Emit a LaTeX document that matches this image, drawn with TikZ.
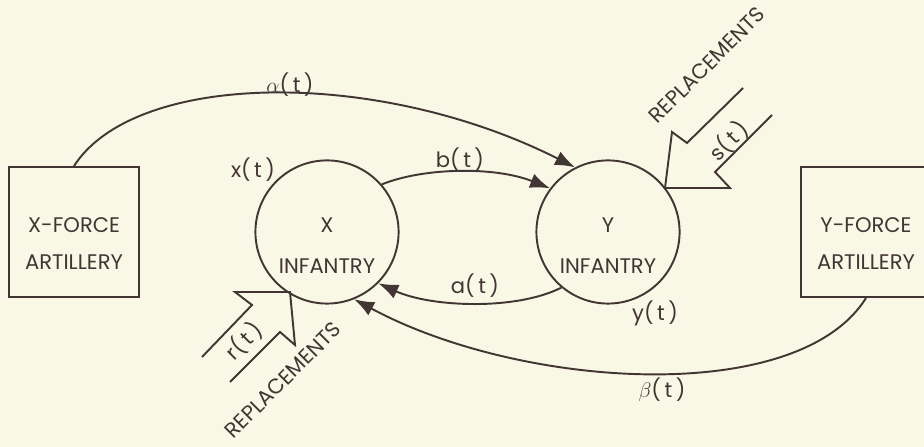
\documentclass[tikz,border=0pt]{standalone}
\usepackage{fontspec}
\setmainfont{Poppins}
\usepackage{tikz}
\usetikzlibrary{arrows.meta}
\definecolor{ink}{RGB}{66,54,52}
\definecolor{paper}{RGB}{249,247,230}
\newcommand{\liftby}[1]{\rule{0pt}{#1}}
\tikzset{
force/.style={draw, minimum width=26mm, minimum height=26mm, align=center,
font=\fontsize{12}{14}\selectfont},
troops/.style={draw, circle, minimum size=27.2mm, align=center,
font=\fontsize{12}{14}\selectfont},
flow/.style={-{Latex[length=4mm,width=3mm]}},
tag/.style={font=\fontsize{12}{14}\selectfont}
}

\begin{document}
\begin{tikzpicture}[x=0.2mm,y=0.2mm,line width=1.1pt,draw=ink,text=ink]
\fill[paper] (0,0) rectangle (924,447);
\useasboundingbox (0,0) rectangle (924,447);
% the four boxes and circles
\node[force](xart) at (74,215){\liftby{22pt}X-FORCE\\[7pt]ARTILLERY};
\node[force](yart) at (866,215){\liftby{22pt}Y-FORCE\\[7pt]ARTILLERY};
\node[troops](xinf) at (327,215){\liftby{24pt}X\\[9pt]INFANTRY};
\node[troops](yinf) at (608,215){\liftby{24pt}Y\\[9pt]INFANTRY};
% fire between the forces
\draw[flow](xart.north) .. controls +(61,95) and +(-198,100) .. (yinf.117);
\draw[flow](xinf.41) .. controls +(42,17) and +(-55,22) .. (yinf.143);
\draw[flow](yinf.230) .. controls +(-45,-23) and +(53,-24) .. (xinf.-45);
\draw[flow](yart.south) .. controls +(-68,-109) and +(167,-90) .. (xinf.-68);
% replacements
\draw (743,359) -- (687,304) -- (672,315) -- (665,259) -- (730,259) -- (715,275) -- (772,332);
\draw (202,90) -- (252,142) -- (235,155) -- (290,155) -- (295,102) -- (280,115) -- (230,65);
% labels
\node[tag](alab) at (290,362){$\alpha$(\,t\,)};
\node[tag](xlab) at (253,277){x(\,t\,)};
\node[tag](blab) at (460,287){b(\,t\,)};
\node[tag](alab2) at (475,161){a(\,t\,)};
\node[tag](ylab) at (655,134){y(\,t\,)};
\node[tag](blab2) at (662,57){$\beta$(\,t\,)};
\node[tag,rotate=45](slab) at (729,306){s(\,t\,)};
\node[tag,rotate=45](rlab) at (244,106){r(\,t\,)};
\node[tag,rotate=45](yrep) at (707,382){REPLACEMENTS};
\node[tag,rotate=45](xrep) at (283,67){REPLACEMENTS};
\end{tikzpicture}
\end{document}
